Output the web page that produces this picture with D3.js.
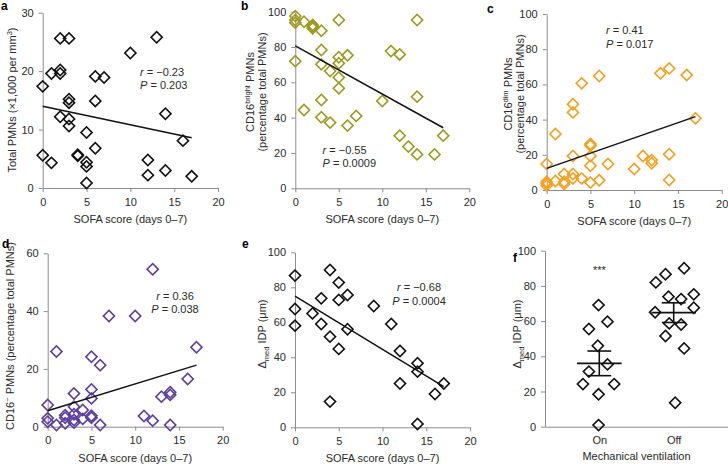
<!DOCTYPE html>
<html>
<head>
<meta charset="utf-8">
<script src="https://cdn.jsdelivr.net/npm/d3@7"></script>
<style>
body { margin: 0; background: #fff; }
svg text { font-family: "Liberation Sans", Arial, Helvetica, sans-serif; }
</style>
</head>
<body>
<div id="fig"></div>
<script>
// values (x = SOFA score, days 0-7)
var sofaA = [2, 3, 13, 10, 0, 0, 1, 1, 2, 2, 2, 3, 3, 3, 3, 4, 4, 5, 5, 5, 5, 6, 6, 6, 7, 12, 12, 14, 14, 16, 17];
var totalPmn = [25.6, 25.6, 25.8, 23.1, 17.4, 5.6, 19.6, 4.3, 20.2, 19.6, 12.2, 15.2, 14.6, 11.8, 10.6, 5.7, 5.5, 9.5, 4.4, 3.7, 0.85, 19.1, 14.9, 6.8, 18.9, 4.8, 2.2, 12.7, 3.0, 8.1, 2.0];

var sofaB = [0, 0, 0, 0, 1, 1, 2, 2, 2, 3, 3, 3, 3, 3, 4, 4, 5, 5, 5, 5, 5, 6, 6, 7, 10, 11, 12, 12, 13, 14, 14, 14, 16, 17];
var brightPct = [97.5, 95.3, 93.8, 72, 94.3, 44.3, 92.5, 91.5, 90.6, 89.2, 78.3, 70.2, 50, 40.2, 66.4, 37.2, 95.3, 74.2, 70.8, 62.8, 56.6, 75.3, 35.5, 41, 49.4, 77.7, 75.8, 29.8, 23.6, 95.3, 51.9, 19.2, 19.2, 29.8];

var sofaC = [0, 0, 0, 0, 1, 1, 2, 2, 2, 3, 3, 3, 3, 3, 4, 4, 5, 5, 5, 5, 5, 6, 6, 7, 10, 11, 12, 12, 13, 14, 14, 14, 16, 17];
var dimPct = [14.8, 4.7, 3.8, 2.5, 31.8, 5.1, 9.1, 4.7, 3.4, 48.7, 44.1, 19.3, 9.1, 6.6, 60.6, 6.6, 26.1, 25.2, 19.3, 13.8, 4.2, 64.8, 5.5, 14.8, 11.9, 19.3, 17, 15.2, 66.3, 69.1, 20.3, 5.7, 65.3, 40.7];

var sofaD = [0, 0, 0, 1, 1, 2, 2, 2, 3, 3, 3, 3, 3, 4, 4, 5, 5, 5, 5, 5, 6, 6, 7, 10, 11, 12, 12, 13, 14, 14, 14, 16, 17];
var negPct = [7.5, 2.9, 1.7, 26, 0.6, 4, 3.1, 1.2, 11.5, 6.9, 4.3, 2.3, 1.4, 5.8, 2.7, 24.2, 12.9, 9.8, 3.8, 3.1, 21.3, 0.6, 38.3, 38.3, 3.7, 54.5, 2.1, 10.4, 11.9, 11, 0.6, 16.5, 27.5];

var sofaE = [0, 0, 0, 2, 3, 3, 4, 4, 4, 5, 5, 5, 6, 6, 9, 11, 12, 12, 14, 14, 14, 16, 17];
var idpE = [86.7, 67.6, 58.1, 65.1, 73.7, 59, 89.9, 51.8, 14.7, 82.7, 72.8, 44.8, 75.6, 56, 69.3, 59, 43.6, 25, 36.6, 31.8, 1.9, 19, 25];

// regression lines: y at SOFA 0 and at SOFA 17
var fitA = [14.0, 8.6];
var fitB = [80.6, 34.3];
var fitC = [12.3, 41.7];
var fitD = [5.5, 21.3];
var fitE = [75.0, 23.2];

// panel f
var ventGroups = ["On", "Off"];
var idpOn = [69.1, 55.5, 59.7, 46, 31.3, 35.4, 24.2, 24.2, 18.4, 0.9];
var jitterOn = [-0.01, -0.14, 0.11, -0.02, -0.14, 0.11, -0.22, 0.2, -0.01, -0.01];
var idpOff = [82, 86.6, 90, 73.9, 72.5, 75.2, 65, 67.6, 58.7, 58.1, 51.5, 44.5, 13.6];
var jitterOff = [-0.24, -0.11, 0.14, -0.07, 0.1, 0.27, -0.25, 0.27, -0.06, 0.1, -0.11, 0.14, 0.02];
var ventMean = [36, 64.8];
var ventSem = [7, 5.6];

var W = 728, H = 464;
var axisCol = "#8c8c8c", textCol = "#2a2a2a";

var svg = d3.select("#fig").append("svg")
  .attr("width", W)
  .attr("height", H);

// writes text made of parts, some of them super/subscript
function rich(sel, parts) {
  var shift = 0;
  parts.forEach(function(p) {
    var want = p.sup ? -4 : (p.sub ? 3 : 0);
    var ts = sel.append("tspan").text(p.t).attr("dy", want - shift);
    if (p.sup || p.sub) ts.attr("font-size", "7.5px");
    if (p.it) ts.attr("font-style", "italic");
    shift = want;
  });
}

function styleAxis(g) {
  g.select(".domain").attr("stroke", axisCol).attr("stroke-width", 1);
  g.selectAll(".tick line").attr("stroke", axisCol);
  g.selectAll(".tick text").attr("fill", textCol).attr("font-size", "11px")
    .attr("font-family", "Liberation Sans, Arial, sans-serif");
}

function yLabel(px, py, lines) {
  lines.forEach(function(parts, i) {
    var t = svg.append("text")
      .attr("transform", "translate(" + (px + i * 12) + "," + py + ") rotate(-90)")
      .attr("text-anchor", "middle")
      .attr("font-size", "11px")
      .attr("fill", textCol);
    rich(t, parts);
  });
}

function letter(s, px, py) {
  svg.append("text").attr("x", px).attr("y", py)
    .attr("font-size", "12px").attr("font-weight", "bold").attr("fill", "#000")
    .text(s);
}

var diamond = d3.symbol(d3.symbolSquare, 62);

function scatter(c) {
  var x = d3.scaleLinear().domain([0, 20]).range([c.l, c.r]);
  var y = d3.scaleLinear().domain([0, c.ymax]).range([c.b, c.t]);

  svg.append("g")
    .attr("transform", "translate(0," + c.b + ")")
    .call(d3.axisBottom(x).tickValues([0, 5, 10, 15, 20]).tickSize(4).tickPadding(6).tickSizeOuter(0))
    .call(styleAxis);
  svg.append("g")
    .attr("transform", "translate(" + c.l + ",0)")
    .call(d3.axisLeft(y).tickValues(c.yticks).tickSize(4).tickPadding(5).tickSizeOuter(0))
    .call(styleAxis);

  svg.append("g").selectAll("path")
    .data(d3.zip(c.xs, c.ys))
    .join("path")
      .attr("d", diamond)
      .attr("transform", function(d) { return "translate(" + x(d[0]) + "," + y(d[1]) + ") rotate(45)"; })
      .attr("fill", "none")
      .attr("stroke", c.color)
      .attr("stroke-width", 1.6);

  svg.append("line")
    .attr("x1", x(0)).attr("y1", y(c.fit[0]))
    .attr("x2", x(17)).attr("y2", y(c.fit[1]))
    .attr("stroke", "#111").attr("stroke-width", 1.5);

  svg.append("text")
    .attr("x", (c.l + c.r) / 2).attr("y", c.b + 35)
    .attr("text-anchor", "middle").attr("font-size", "11px").attr("fill", textCol)
    .text("SOFA score (days 0\u20137)");

  var r = svg.append("text").attr("x", c.sx).attr("y", c.sy)
    .attr("text-anchor", c.anchor).attr("font-size", "11px").attr("fill", textCol);
  rich(r, [{t: "r", it: true}, {t: " = " + c.r_}]);
  var p = svg.append("text").attr("x", c.sx).attr("y", c.sy + 13.5)
    .attr("text-anchor", c.anchor).attr("font-size", "11px").attr("fill", textCol);
  rich(p, [{t: "P", it: true}, {t: " = " + c.p_}]);
}

// a
scatter({l: 42.7, r: 218, t: 12.7, b: 188, ymax: 30, yticks: [0, 10, 20, 30],
  xs: sofaA, ys: totalPmn, color: "#111", fit: fitA,
  sx: 140, sy: 75.5, anchor: "start", r_: "\u22120.23", p_: "0.203"});
yLabel(16, 100, [[{t: "Total PMNs (\u00d71,000 per mm"}, {t: "3", sup: true}, {t: ")"}]]);
letter("a", 1, 10);

// b
scatter({l: 295.3, r: 469.3, t: 11.7, b: 188.3, ymax: 100, yticks: [0, 20, 40, 60, 80, 100],
  xs: sofaB, ys: brightPct, color: "#9b9a22", fit: fitB,
  sx: 322.5, sy: 153.7, anchor: "start", r_: "\u22120.55", p_: "0.0009"});
yLabel(254, 92, [[{t: "CD16"}, {t: "bright", sup: true}, {t: " PMNs"}], [{t: "(percentage total PMNs)"}]]);
letter("b", 241, 10);

// c
scatter({l: 546.7, r: 721.7, t: 14, b: 190, ymax: 100, yticks: [0, 20, 40, 60, 80, 100],
  xs: sofaC, ys: dimPct, color: "#f4a020", fit: fitC,
  sx: 606, sy: 34, anchor: "start", r_: "0.41", p_: "0.017"});
yLabel(512, 94, [[{t: "CD16"}, {t: "dim", sup: true}, {t: " PMNs"}], [{t: "(percentage total PMNs)"}]]);
letter("c", 487, 13);

// d
scatter({l: 47.7, r: 222.7, t: 253.3, b: 426.7, ymax: 60, yticks: [0, 20, 40, 60],
  xs: sofaD, ys: negPct, color: "#5d3e9c", fit: fitD,
  sx: 175, sy: 299.5, anchor: "middle", r_: "0.36", p_: "0.038"});
yLabel(14, 336, [[{t: "CD16"}, {t: "\u2212", sup: true}, {t: " PMNs (percentage total PMNs)"}]]);
letter("d", 2, 248);

// e
scatter({l: 295, r: 470, t: 252.3, b: 427.3, ymax: 100, yticks: [0, 20, 40, 60, 80, 100],
  xs: sofaE, ys: idpE, color: "#111", fit: fitE,
  sx: 419, sy: 291, anchor: "middle", r_: "\u22120.68", p_: "0.0004"});
yLabel(266, 334, [[{t: "\u0394"}, {t: "med", sub: true}, {t: " IDP (\u03bcm)"}]]);
letter("e", 242, 248);

// f
(function() {
  var l = 545, r = 728, t = 250.7, b = 426.7;
  var x = d3.scalePoint().domain(ventGroups).range([l, r]).padding(0.73);
  var y = d3.scaleLinear().domain([0, 100]).range([b, t]);
  var step = x.step();

  svg.append("g")
    .attr("transform", "translate(0," + b + ")")
    .call(d3.axisBottom(x).tickSize(0).tickPadding(10).tickSizeOuter(0))
    .call(styleAxis);
  svg.append("g")
    .attr("transform", "translate(" + l + ",0)")
    .call(d3.axisLeft(y).tickValues([0, 20, 40, 60, 80, 100]).tickSize(4).tickPadding(5).tickSizeOuter(0))
    .call(styleAxis);

  var pts = idpOn.map(function(v, i) { return {g: "On", v: v, j: jitterOn[i]}; })
    .concat(idpOff.map(function(v, i) { return {g: "Off", v: v, j: jitterOff[i]}; }));

  svg.append("g").selectAll("path")
    .data(pts)
    .join("path")
      .attr("d", diamond)
      .attr("transform", function(d) { return "translate(" + (x(d.g) + d.j * step) + "," + y(d.v) + ") rotate(45)"; })
      .attr("fill", "none")
      .attr("stroke", "#111")
      .attr("stroke-width", 1.6);

  // mean and s.e.m.
  ventGroups.forEach(function(gname, i) {
    var cx = x(gname), m = ventMean[i], s = ventSem[i];
    var gg = svg.append("g").attr("stroke", "#111").attr("stroke-width", 1.6);
    gg.append("line").attr("x1", cx - 0.3 * step).attr("x2", cx + 0.3 * step).attr("y1", y(m)).attr("y2", y(m));
    gg.append("line").attr("x1", cx).attr("x2", cx).attr("y1", y(m - s)).attr("y2", y(m + s));
    gg.append("line").attr("x1", cx - 0.16 * step).attr("x2", cx + 0.16 * step).attr("y1", y(m + s)).attr("y2", y(m + s));
    gg.append("line").attr("x1", cx - 0.16 * step).attr("x2", cx + 0.16 * step).attr("y1", y(m - s)).attr("y2", y(m - s));
  });

  svg.append("text").attr("x", x("On")).attr("y", y(87))
    .attr("text-anchor", "middle").attr("font-size", "11px").attr("fill", textCol)
    .text("***");

  svg.append("text")
    .attr("x", (l + r) / 2).attr("y", b + 33)
    .attr("text-anchor", "middle").attr("font-size", "11px").attr("fill", textCol)
    .text("Mechanical ventilation");

  yLabel(521, 334, [[{t: "\u0394"}, {t: "med", sub: true}, {t: " IDP (\u03bcm)"}]]);
  letter("f", 513, 262);
})();
</script>
</body>
</html>
